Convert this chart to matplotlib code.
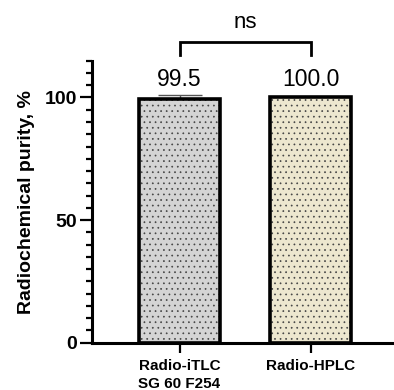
import matplotlib
matplotlib.use("Agg")
import matplotlib.pyplot as plt
from matplotlib.ticker import MultipleLocator

plt.rcParams['font.family'] = ['Liberation Sans', 'DejaVu Sans']
plt.rcParams['hatch.linewidth'] = 0.5

# data
methods = ["Radio-iTLC\nSG 60 F254", "Radio-HPLC"]
purity = [99.5, 100.0]
purity_sd = [1.4, 0.0]
value_labels = ["99.5", "100.0"]
bar_colors = ["#d4d4d4", "#ede7cf"]
sig_label = "ns"

fig = plt.figure(figsize=(3.94, 3.90), dpi=100)
ax = fig.add_axes([92 / 394, 47.3 / 390, 302 / 394, 282 / 390])

x = list(range(len(methods)))
width = 0.62

# filled bars with dotted hatch
ax.bar(x, purity, width=width, color=bar_colors, edgecolor="#444444",
       linewidth=0, hatch="...", zorder=2)
# thick black outline
ax.bar(x, purity, width=width, fill=False, edgecolor="black",
       linewidth=2.6, zorder=3)

# upper error bar only
ax.errorbar(x, purity, yerr=[[0, 0], purity_sd], fmt="none",
            ecolor="#555555", elinewidth=1, capsize=16, capthick=1, zorder=1)

# value labels above the bars
for xi, lab in zip(x, value_labels):
    ax.text(xi, 104.5, lab, ha="center", va="baseline", fontsize=16.5)

# significance bracket
ax.plot([0, 0, 1, 1], [117.5, 122.5, 122.5, 117.5], color="black",
        linewidth=2.0, clip_on=False, solid_joinstyle="miter")
ax.text(0.5, 128.3, sig_label, ha="center", va="baseline", fontsize=16)

ax.set_xlim(-0.668, 1.637)
ax.set_ylim(0, 115)
ax.set_xticks(x)
ax.set_xticklabels(methods, fontsize=11, fontweight="bold", linespacing=1.3)
ax.set_yticks([0, 50, 100])
ax.set_yticklabels(["0", "50", "100"], fontsize=14, fontweight="bold")
ax.yaxis.set_minor_locator(MultipleLocator(5))

ax.set_ylabel("Radiochemical purity, %", fontsize=14, fontweight="bold",
              labelpad=7)

for side in ["top", "right"]:
    ax.spines[side].set_visible(False)
for side in ["left", "bottom"]:
    ax.spines[side].set_linewidth(2.2)

ax.tick_params(axis="y", which="major", length=8.5, width=1.6, pad=2)
ax.tick_params(axis="y", which="minor", length=4.3, width=1.6)
ax.tick_params(axis="x", which="major", length=7, width=1.6, pad=5)

fig.savefig("out.png", dpi=100)
